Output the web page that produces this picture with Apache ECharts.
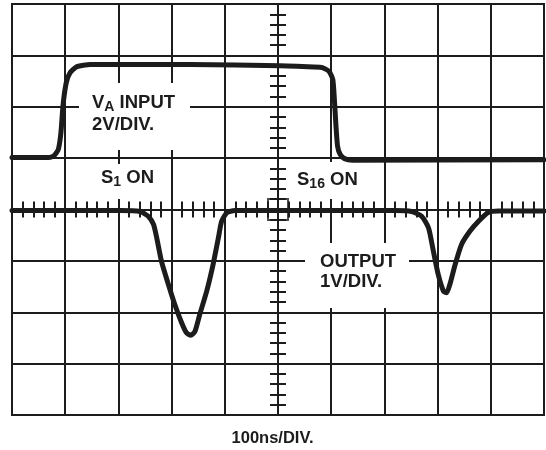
<!DOCTYPE html>
<html>
<head>
<meta charset="utf-8">
<title>S1 / S16 switching waveform</title>
<script src="https://cdn.jsdelivr.net/npm/echarts@6/dist/echarts.min.js"></script>
<style>
  html, body { margin: 0; padding: 0; background: #fff; }
  #chart { width: 546px; height: 450px; }
</style>
</head>
<body>
<div id="chart"></div>
<script>
// scope screen: 10 x 8 divisions, values in divisions from the centre
const xRange = [-5, 5]
const yRange = [-4, 4]

// V_A input, 2V/DIV.
const inputX = [-5.0, -4.38, -4.22, -4.13, -4.08, -4.04, -3.98, -3.91, -3.78, -3.53, -1.65, 0.04, 0.79, 0.84, 0.96, 1.03, 1.06, 1.09, 1.12, 1.17, 1.25, 1.40, 5.0]
const inputY = [1.01, 1.01, 1.04, 1.17, 1.50, 2.04, 2.47, 2.66, 2.78, 2.82, 2.82, 2.80, 2.77, 2.76, 2.69, 2.53, 2.14, 1.62, 1.23, 1.07, 0.99, 0.96, 0.97]

// output, 1V/DIV.
const outputX = [-5, -2.97, -2.59, -2.44, -2.34, -2.28, -2.19, -2.06, -1.94, -1.81, -1.72, -1.64, -1.56, -1.47, -1.34, -1.22, -1.12, -1.06, -0.96, -0.81,
  2.20, 2.51, 2.70, 2.83, 2.92, 3.01, 3.11, 3.17, 3.23, 3.33, 3.45, 3.61, 3.77, 3.95, 4.14, 5]
const outputY = [-0.02, -0.02, -0.04, -0.13, -0.29, -0.55, -1.01, -1.46, -1.85, -2.21, -2.40, -2.45, -2.37, -2.04, -1.59, -1.07, -0.55, -0.23, -0.06, -0.02,
  -0.02, -0.04, -0.13, -0.36, -0.81, -1.26, -1.59, -1.62, -1.46, -1.07, -0.68, -0.42, -0.23, -0.06, -0.03, -0.03]

const centerMark = [[0, 0]]

const INK = '#1c1c1c'
const FONT = '"Liberation Sans", Arial, Helvetica, sans-serif'

function zip (xs, ys) {
  let out = []
  for (let i = 0; i < xs.length; i++) {
    out.push([xs[i], ys[i]])
  }
  return out
}

// axis through the centre, ticks on one side; two of each make crossing ticks
function centreAxis (position, onZeroIndex, withGrid) {
  return {
    type: 'value',
    position: position,
    min: position === 'bottom' || position === 'top' ? xRange[0] : yRange[0],
    max: position === 'bottom' || position === 'top' ? xRange[1] : yRange[1],
    interval: 1,
    axisLine: { show: true, onZero: true, onZeroAxisIndex: onZeroIndex, lineStyle: { color: INK, width: 2 } },
    axisTick: { show: true, inside: false, length: 8, lineStyle: { color: INK, width: 2 } },
    minorTick: { show: true, splitNumber: 5, length: 8, lineStyle: { color: INK, width: 2 } },
    axisLabel: { show: false },
    splitLine: { show: withGrid, lineStyle: { color: INK, width: 2 } }
  }
}

const bold = { fontFamily: FONT, fontWeight: 'bold', fontSize: 18.5, fill: INK }
const sub = { fontFamily: FONT, fontWeight: 'bold', fontSize: 14, fill: INK, lineHeight: 14, verticalAlign: 'bottom' }

function label (box, x, y, text, lineHeight) {
  return [
    { type: 'rect', shape: box, style: { fill: '#fff' }, z: 5 },
    {
      type: 'text',
      x: x,
      y: y,
      z: 6,
      style: {
        text: text,
        align: 'left',
        verticalAlign: 'top',
        rich: {
          b: Object.assign({ lineHeight: lineHeight }, bold),
          s: sub
        }
      }
    }
  ]
}

const graphics = [].concat(
  label({ x: 79, y: 83, width: 111, height: 67 }, 92, 92, '{b|V}{s|A}{b| INPUT}\n{b|2V/DIV.}', 22),
  label({ x: 90, y: 164, width: 76, height: 35 }, 101, 167, '{b|S}{s|1}{b| ON}', 22),
  label({ x: 290, y: 162, width: 82, height: 37 }, 297, 169, '{b|S}{s|16}{b| ON}', 22),
  label({ x: 305, y: 243, width: 104, height: 65 }, 320, 252, '{b|OUTPUT}\n{b|1V/DIV.}', 20),
  [{
    type: 'text',
    x: 272.5,
    y: 438,
    style: {
      text: '100ns/DIV.',
      align: 'center',
      verticalAlign: 'middle',
      fontFamily: FONT,
      fontWeight: 'bold',
      fontSize: 16.5,
      fill: INK
    }
  }]
)

const chart = echarts.init(document.getElementById('chart'), null, { renderer: 'canvas' })

const option = {
  animation: false,
  backgroundColor: '#fff',
  grid: {
    show: true,
    left: 12,
    top: 4,
    right: 2,
    bottom: 35,
    borderColor: INK,
    borderWidth: 2,
    backgroundColor: 'transparent'
  },
  xAxis: [
    centreAxis('bottom', 0, true),
    centreAxis('top', 1, false)
  ],
  yAxis: [
    centreAxis('left', 0, true),
    centreAxis('right', 1, false)
  ],
  graphic: graphics,
  series: [
    {
      name: 'V_A input',
      type: 'line',
      data: zip(inputX, inputY),
      showSymbol: false,
      smooth: 0.2,
      lineStyle: { color: INK, width: 5, cap: 'round', join: 'round' },
      z: 10
    },
    {
      name: 'output',
      type: 'line',
      data: zip(outputX, outputY),
      showSymbol: false,
      smooth: 0.2,
      lineStyle: { color: INK, width: 5, cap: 'round', join: 'round' },
      z: 10
    },
    {
      name: 'centre',
      type: 'scatter',
      data: centerMark,
      symbol: 'rect',
      symbolSize: [20, 21],
      itemStyle: { color: 'transparent', borderColor: INK, borderWidth: 2 },
      silent: true,
      z: 8
    }
  ]
}

chart.setOption(option)
window.addEventListener('resize', function () { chart.resize() })
</script>
</body>
</html>
